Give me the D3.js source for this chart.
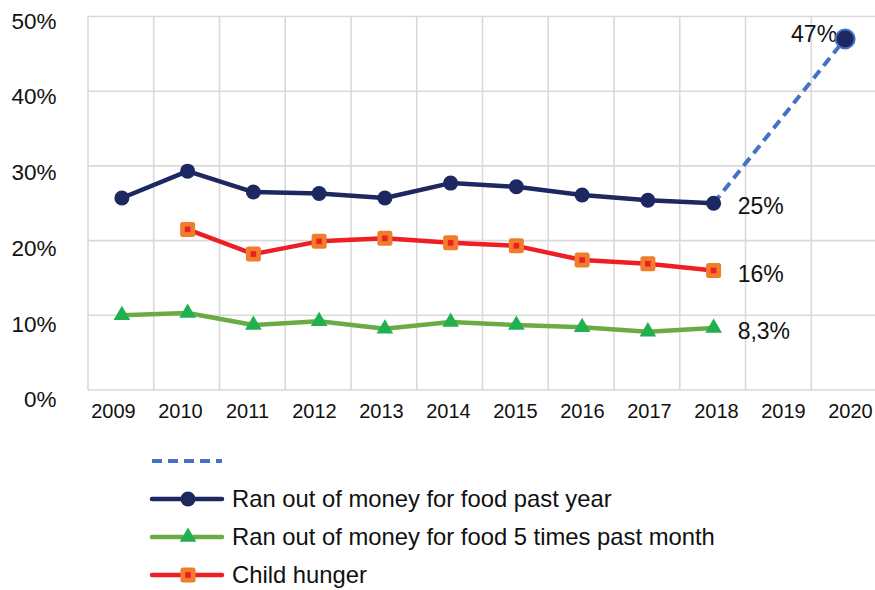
<!DOCTYPE html>
<html>
<head>
<meta charset="utf-8">
<script src="https://cdn.jsdelivr.net/npm/d3@7"></script>
<style>
  html, body { margin: 0; padding: 0; background: #fff; }
  svg { display: block; font-family: "Liberation Sans", Arial, Helvetica, sans-serif; }
</style>
</head>
<body>
<svg id="chart" width="875" height="590"></svg>
<script>
// Years on the horizontal axis
const years = ["2009", "2010", "2011", "2012", "2013", "2014", "2015", "2016", "2017", "2018", "2019", "2020"];

// Share of households (%) — null where no survey value exists
const ranOutYear = [25.7, 29.3, 26.5, 26.3, 25.7, 27.7, 27.2, 26.1, 25.4, 25, null, null];
const ranOutMonth = [10.0, 10.3, 8.7, 9.2, 8.2, 9.1, 8.7, 8.4, 7.8, 8.3, null, null];
const childHunger = [null, 21.5, 18.2, 19.9, 20.3, 19.7, 19.3, 17.4, 16.9, 16, null, null];
// Projected jump from 2018 to 2020
const projection = [null, null, null, null, null, null, null, null, null, 25, null, 47];

const yTicks = [0, 10, 20, 30, 40, 50];
const endLabels = [
  { year: "2018", value: 25, text: "25%" },
  { year: "2018", value: 16, text: "16%" },
  { year: "2018", value: 8.3, text: "8,3%" },
  { year: "2020", value: 47, text: "47%" }
];
const legendLabels = ["", "Ran out of money for food past year", "Ran out of money for food 5 times past month", "Child hunger"];

const navy = "#1d2760", green = "#6aab45", greenMark = "#1fb04f",
      red = "#ed1f24", orange = "#f07d2c", blue = "#4472c4", grid = "#d9d9d9";

const svg = d3.select("#chart");
const plotL = 88, plotR = 877, plotT = 16.5, plotB = 390;

const x = d3.scaleBand().domain(years).range([plotL, plotR]).padding(0);
const y = d3.scaleLinear().domain([0, 50]).range([plotB, plotT]);
const cx = yr => x(yr) + x.bandwidth() / 2 + 1;

// Tick labels sit on a slightly wider spread than the grid
const xLab = d3.scaleBand().domain(years).range([80, 884]).padding(0);
const yLab = d3.scaleLinear().domain([0, 50]).range([399.5, 21.1]);

// Grid: horizontal lines at ticks, vertical lines on band edges
const g = svg.append("g");
g.selectAll("line.h").data(yTicks).join("line").attr("class", "h")
  .attr("x1", plotL).attr("x2", plotR)
  .attr("y1", d => y(d)).attr("y2", d => y(d))
  .attr("stroke", grid).attr("stroke-width", 1.6);
g.selectAll("line.v").data(d3.range(years.length + 1)).join("line").attr("class", "v")
  .attr("x1", i => plotL + i * x.bandwidth()).attr("x2", i => plotL + i * x.bandwidth())
  .attr("y1", plotT).attr("y2", plotB)
  .attr("stroke", grid).attr("stroke-width", 1.6);

// Axis labels
const yAxis = d3.axisLeft(yLab).tickValues(yTicks).tickFormat(d => d + "%").tickSize(0).tickPadding(0);
const ya = svg.append("g").attr("transform", "translate(56.5,0)").call(yAxis);
ya.select(".domain").remove();
ya.selectAll("text").attr("font-size", 22.5).attr("fill", "#111").attr("font-family", null);

const xAxis = d3.axisBottom(xLab).tickSize(0).tickPadding(0);
const xa = svg.append("g").attr("transform", "translate(0," + (plotB + 13.5) + ")").call(xAxis);
xa.select(".domain").remove();
xa.selectAll("text").attr("font-size", 20).attr("fill", "#111").attr("font-family", null);

const pts = arr => years.map((yr, i) => ({ yr, v: arr[i] })).filter(d => d.v !== null);
const line = d3.line().x(d => cx(d.yr)).y(d => y(d.v));

// Projection (dashed)
svg.append("path").datum(pts(projection))
  .attr("d", line).attr("fill", "none").attr("stroke", blue)
  .attr("stroke-width", 4).attr("stroke-dasharray", "10,6");

// Series lines
svg.append("path").datum(pts(ranOutMonth)).attr("d", line)
  .attr("fill", "none").attr("stroke", green).attr("stroke-width", 4.5).attr("stroke-linejoin", "round");
svg.append("path").datum(pts(childHunger)).attr("d", line)
  .attr("fill", "none").attr("stroke", red).attr("stroke-width", 4.5).attr("stroke-linejoin", "round");
svg.append("path").datum(pts(ranOutYear)).attr("d", line)
  .attr("fill", "none").attr("stroke", navy).attr("stroke-width", 4.5).attr("stroke-linejoin", "round");

// Marker drawers
const tri = d3.symbol().type(d3.symbolTriangle).size(120);
function drawTriangle(sel, px, py) {
  sel.append("path").attr("d", tri()).attr("transform", `translate(${px},${py})`).attr("fill", greenMark);
}
function drawSquare(sel, px, py) {
  sel.append("rect").attr("x", px - 7.5).attr("y", py - 7.5).attr("width", 15).attr("height", 15)
    .attr("rx", 2.5).attr("fill", orange);
  sel.append("rect").attr("x", px - 2.8).attr("y", py - 2.8).attr("width", 5.6).attr("height", 5.6).attr("fill", red);
}
function drawCircle(sel, px, py) {
  sel.append("circle").attr("cx", px).attr("cy", py).attr("r", 7.5).attr("fill", navy);
}

const marks = svg.append("g");
pts(ranOutMonth).forEach(d => drawTriangle(marks, cx(d.yr), y(d.v)));
pts(childHunger).forEach(d => drawSquare(marks, cx(d.yr), y(d.v)));
pts(ranOutYear).forEach(d => drawCircle(marks, cx(d.yr), y(d.v)));

// End-value labels
svg.append("g").selectAll("text").data(endLabels).join("text")
  .attr("x", d => d.year === "2020" ? cx(d.year) - 8 : cx(d.year) + 24)
  .attr("y", d => d.year === "2020" ? y(d.value) + 2.8 : y(d.value) + 11.2)
  .attr("text-anchor", d => d.year === "2020" ? "end" : "start")
  .attr("font-size", 23).attr("fill", "#111")
  .text(d => d.text);

// 2020 projected point, drawn over its label
marks.raise();
marks.append("circle").attr("cx", cx("2020")).attr("cy", y(projection[11])).attr("r", 9.5)
  .attr("fill", navy).attr("stroke", blue).attr("stroke-width", 2);

// Legend
const lg = svg.append("g");
const lx1 = 152, lx2 = 222, lmid = 188;
const rows = [461, 499, 537, 575];
lg.append("line").attr("x1", lx1).attr("x2", lx2).attr("y1", rows[0]).attr("y2", rows[0])
  .attr("stroke", blue).attr("stroke-width", 4).attr("stroke-dasharray", "10,6");
[navy, green, red].forEach((c, i) => {
  lg.append("line").attr("x1", lx1).attr("x2", lx2).attr("y1", rows[i + 1]).attr("y2", rows[i + 1])
    .attr("stroke", c).attr("stroke-width", 4.5).attr("stroke-linecap", "round");
});
drawCircle(lg, lmid, rows[1]);
drawTriangle(lg, lmid, rows[2]);
drawSquare(lg, lmid, rows[3]);
lg.selectAll("text.lab").data(legendLabels).join("text")
  .attr("class", "lab")
  .attr("x", 232).attr("y", (d, i) => rows[i]).attr("dy", "0.32em")
  .attr("font-size", 23.8).attr("fill", "#111")
  .text(d => d);
</script>
</body>
</html>
